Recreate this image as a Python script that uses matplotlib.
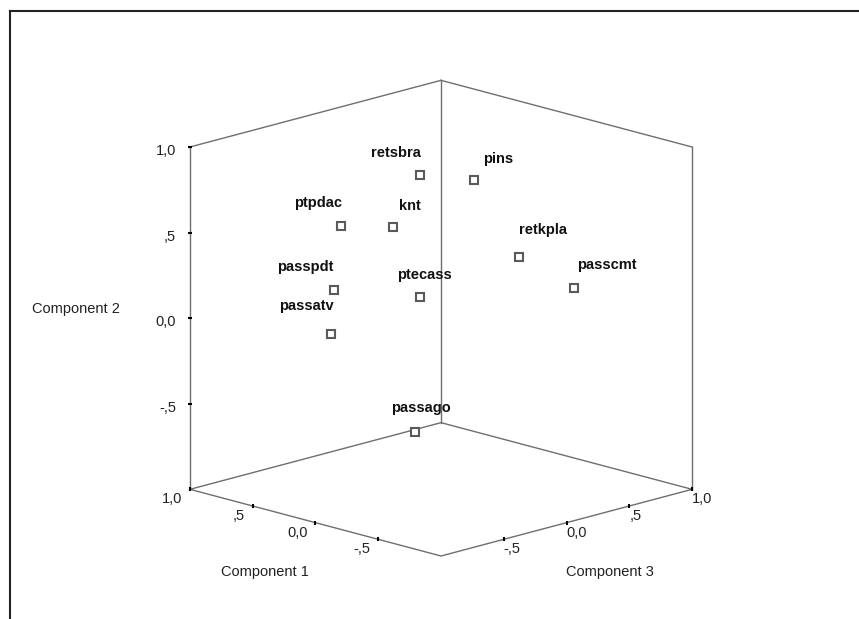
import numpy as np
import matplotlib.pyplot as plt
from matplotlib.lines import Line2D
from mpl_toolkits.mplot3d import proj3d

plt.rcParams['font.family'] = ['Liberation Sans', 'DejaVu Sans']

# Component loadings
variables = ['retsbra', 'ptpdac', 'knt', 'pins', 'retkpla',
             'passcmt', 'passpdt', 'ptecass', 'passatv', 'passago']
comp1 = [0.20, 0.60, 0.35, 0.10, 0.05, -0.20, 0.75, 0.40, 0.80, 0.20]
comp2 = [0.79, 0.46, 0.47, 0.72, 0.22, 0.05, 0.04, 0.00, -0.23, -0.70]
comp3 = [0.03, -0.20, -0.03, 0.36, 0.67, 0.86, -0.10, 0.23, -0.08, -0.01]

tick_vals = [-0.5, 0.0, 0.5, 1.0]
tick_labels = ['-,5', '0,0', ',5', '1,0']

# label placement: horizontal alignment and pixel offset from the marker
label_ha = ['right', 'right', 'left', 'left', 'left',
            'left', 'right', 'center', 'right', 'center']
label_off = [(1, 22), (1, 23), (6, 21), (9, 21), (0, 27),
             (3, 23), (-1, 23), (5, 22), (3, 28), (6, 24)]

W, H = 859, 619
fig = plt.figure(figsize=(W / 100, H / 100), dpi=100)
side = 500
ax = fig.add_axes([0.2, 0.1, side / W, side / H], projection='3d', proj_type='ortho')
ax.view_init(elev=15.4, azim=-135)
ax.set_box_aspect((1, 1, 1.0))
ax.set_xlim(-1, 1)
ax.set_ylim(-1, 1)
ax.set_zlim(-1, 1)
ax.set_axis_off()

# mplot3d axes: x = Component 3, y = Component 1, z = Component 2
lo, hi = -1, 1
edge = dict(color='#6e6e6e', lw=1.0)
# back walls
ax.plot([lo, lo], [hi, hi], [lo, hi], **edge)
ax.plot([hi, hi], [hi, hi], [lo, hi], **edge)
ax.plot([hi, hi], [lo, lo], [lo, hi], **edge)
ax.plot([lo, hi], [hi, hi], [hi, hi], **edge)
ax.plot([hi, hi], [hi, lo], [hi, hi], **edge)
# floor
ax.plot([lo, hi, hi, lo, lo], [hi, hi, lo, lo, hi], [lo, lo, lo, lo, lo], **edge)

n = len(tick_vals)
tick = dict(ls='none', ms=3, mew=1.5, color='black')
ax.plot([lo] * n, [hi] * n, tick_vals, marker='_', **tick)   # Component 2
ax.plot([lo] * n, tick_vals, [lo] * n, marker='|', **tick)   # Component 1
ax.plot(tick_vals, [lo] * n, [lo] * n, marker='|', **tick)   # Component 3

# the variables
ax.plot(comp3, comp1, comp2, ls='none', marker='s', ms=6, mfc='white',
        mec='#5a5a5a', mew=1.5)

# place the axes so the cube lands where it is in the reference
fig.canvas.draw()


def to_axes(x, y, z):
    xs, ys, _ = proj3d.proj_transform(x, y, z, ax.get_proj())
    return ax.transAxes.inverted().transform(ax.transData.transform((xs, ys)))


lt = to_axes(lo, hi, hi)
rt = to_axes(hi, lo, hi)
fb = to_axes(lo, lo, lo)
S = (556 - 147) / (lt[1] - fb[1])
x0 = 441 - S * (lt[0] + rt[0]) / 2
y0 = (H - 147) - S * lt[1]
ax.set_position([x0 / W, y0 / H, S / W, S / H])
fig.canvas.draw()


def put(x, y, z, s, dx, dy, **kw):
    # text anchored to a projected 3D point, shifted by (dx, dy) pixels
    xs, ys, _ = proj3d.proj_transform(x, y, z, ax.get_proj())
    px, py = ax.transData.transform((xs, ys))
    fig.text((px + dx) / W, (py + dy) / H, s, **kw)


tick_font = dict(fontsize=10.5, color='#222222', va='center')
for v, t in zip(tick_vals, tick_labels):
    put(lo, hi, v, t, -14, -4, ha='right', **tick_font)
    put(lo, v, lo, t, -8, -10, ha='right', **tick_font)
    put(v, lo, lo, t, 0, -10, ha='left', **tick_font)

for i, name in enumerate(variables):
    dx, dy = label_off[i]
    put(comp3[i], comp1[i], comp2[i], name, dx, dy, ha=label_ha[i], va='center',
        fontsize=10.5, fontweight='bold', color='#111111')

# axis titles
fig.text(265 / W, 1 - 572 / H, 'Component 1', ha='center', **tick_font)
fig.text(76 / W, 1 - 309 / H, 'Component 2', ha='center', **tick_font)
fig.text(610 / W, 1 - 572 / H, 'Component 3', ha='center', **tick_font)

# outer frame (only left and top edges visible)
fig.add_artist(Line2D([9.5 / W, 9.5 / W], [0, 1 - 11 / H], transform=fig.transFigure,
                      color='#222222', lw=1.5))
fig.add_artist(Line2D([9.5 / W, 1], [1 - 11 / H, 1 - 11 / H], transform=fig.transFigure,
                      color='#222222', lw=1.5))

fig.savefig('out.png', dpi=100)
